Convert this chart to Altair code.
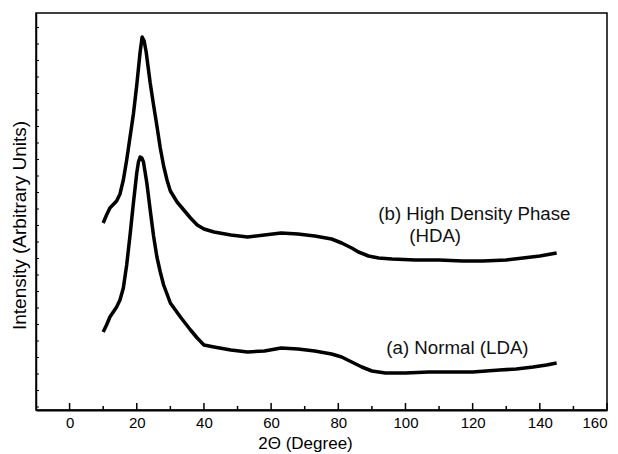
import altair as alt
import pandas as pd

# (b) High Density Phase (HDA)
x_b = [10, 11, 12, 14, 15, 16, 17, 18, 19, 20, 21, 21.6, 22.2, 22.8, 24, 25, 26, 27, 28, 29,
       30, 32, 34, 36, 38, 40, 43, 48, 53, 58, 63, 68, 73, 78, 81, 84, 86, 89, 92, 96,
       103, 110, 117, 123, 130, 135, 140, 145]
y_b = [187, 195, 202, 209, 216, 230, 250, 273, 296, 325, 358, 373, 369, 358, 327, 305, 284, 262, 244, 230,
       219, 208, 200, 192, 185, 181, 178, 175, 173, 175, 177, 176, 174, 171, 167, 162, 158, 154, 152, 151,
       150, 150, 149, 149, 150, 152, 154, 157]

# (a) Normal (LDA)
x_a = [10, 11, 12, 14, 15, 16, 17, 18, 19, 20, 20.5, 21, 21.5, 22, 23, 24, 25, 26, 27, 28,
       30, 33, 36, 38, 40, 43, 48, 53, 58, 63, 68, 73, 78, 81, 84, 87, 90, 94, 100, 107,
       113, 120, 128, 133, 138, 142, 145]
y_a = [78, 85, 93, 103, 110, 122, 145, 175, 207, 237, 248, 253, 252, 248, 227, 200, 174, 153, 138, 125,
       107, 93, 80, 72, 65, 63, 60, 58, 59, 62, 61, 59, 56, 53, 48, 43, 39, 37, 37, 38,
       38, 38, 40, 41, 43, 45, 47]

x_major = [0, 20, 40, 60, 80, 100, 120, 140, 160]
x_minor = [10, 30, 50, 70, 90, 110, 130, 150]
y_ticks = [3, 19.5, 36, 52.5, 69, 85.5, 102, 118.5, 135, 151.5, 168, 184.5, 201, 217.5,
           234, 250.5, 267, 283.5, 300, 316.5, 333, 349.5, 366, 382.5]

labels = ["(b) High Density Phase", "(HDA)", "(a) Normal (LDA)"]
label_x = [91.9, 101.1, 94.3]
label_y = [190, 168, 56]

FONT = "Liberation Sans"
W, H = 571, 397

df = pd.concat([
    pd.DataFrame({"x": x_b, "y": y_b, "s": "b"}),
    pd.DataFrame({"x": x_a, "y": y_a, "s": "a"}),
])

xscale = alt.Scale(domain=[-10, 160], nice=False, zero=False)
yscale = alt.Scale(domain=[0, 397], nice=False, zero=False)

lines = alt.Chart(df).mark_line(color="black", strokeWidth=3.5, strokeJoin="round").encode(
    x=alt.X("x:Q", scale=xscale,
            axis=alt.Axis(values=x_major, format="d", ticks=False, grid=False,
                          domainColor="black", domainWidth=2,
                          labelFont=FONT, labelFontSize=15, labelColor="black",
                          labelBaseline="alphabetic", labelPadding=17,
                          title="2Θ (Degree)", titleFont=FONT, titleFontSize=17,
                          titleFontWeight="normal", titleColor="black",
                          titleX=269, titleY=38, titleBaseline="alphabetic")),
    y=alt.Y("y:Q", scale=yscale,
            axis=alt.Axis(labels=False, ticks=False, grid=False,
                          domainColor="black", domainWidth=1.5,
                          title="Intensity (Arbitrary Units)", titleFont=FONT,
                          titleFontSize=19, titleFontWeight="normal", titleColor="black",
                          titleX=-11, titleY=212, titleBaseline="alphabetic")),
    detail="s:N",
)

major_ticks = alt.Chart(pd.DataFrame({"x": x_major})).mark_rule(color="black", strokeWidth=1.5).encode(
    x=alt.X("x:Q", scale=xscale), y=alt.value(H), y2=alt.value(H - 7))
minor_ticks = alt.Chart(pd.DataFrame({"x": x_minor})).mark_rule(color="black", strokeWidth=1.5).encode(
    x=alt.X("x:Q", scale=xscale), y=alt.value(H), y2=alt.value(H - 4))
yt = alt.Chart(pd.DataFrame({"y": y_ticks})).mark_rule(color="black", strokeWidth=1).encode(
    y=alt.Y("y:Q", scale=yscale), x=alt.value(0), x2=alt.value(3))

text = alt.Chart(pd.DataFrame({"x": label_x, "y": label_y, "t": labels})).mark_text(
    align="left", baseline="alphabetic", font=FONT, fontSize=18.7, color="#111"
).encode(x=alt.X("x:Q", scale=xscale), y=alt.Y("y:Q", scale=yscale), text="t:N")

chart = alt.layer(lines, major_ticks, minor_ticks, yt, text).properties(
    width=W, height=H,
    autosize=alt.AutoSizeParams(type="none"),
    padding={"left": 28, "top": 5, "right": 2, "bottom": 46},
).configure_view(stroke="black", strokeWidth=1.5)

chart.save("out.html", embed_options={"renderer": "svg", "actions": False})
